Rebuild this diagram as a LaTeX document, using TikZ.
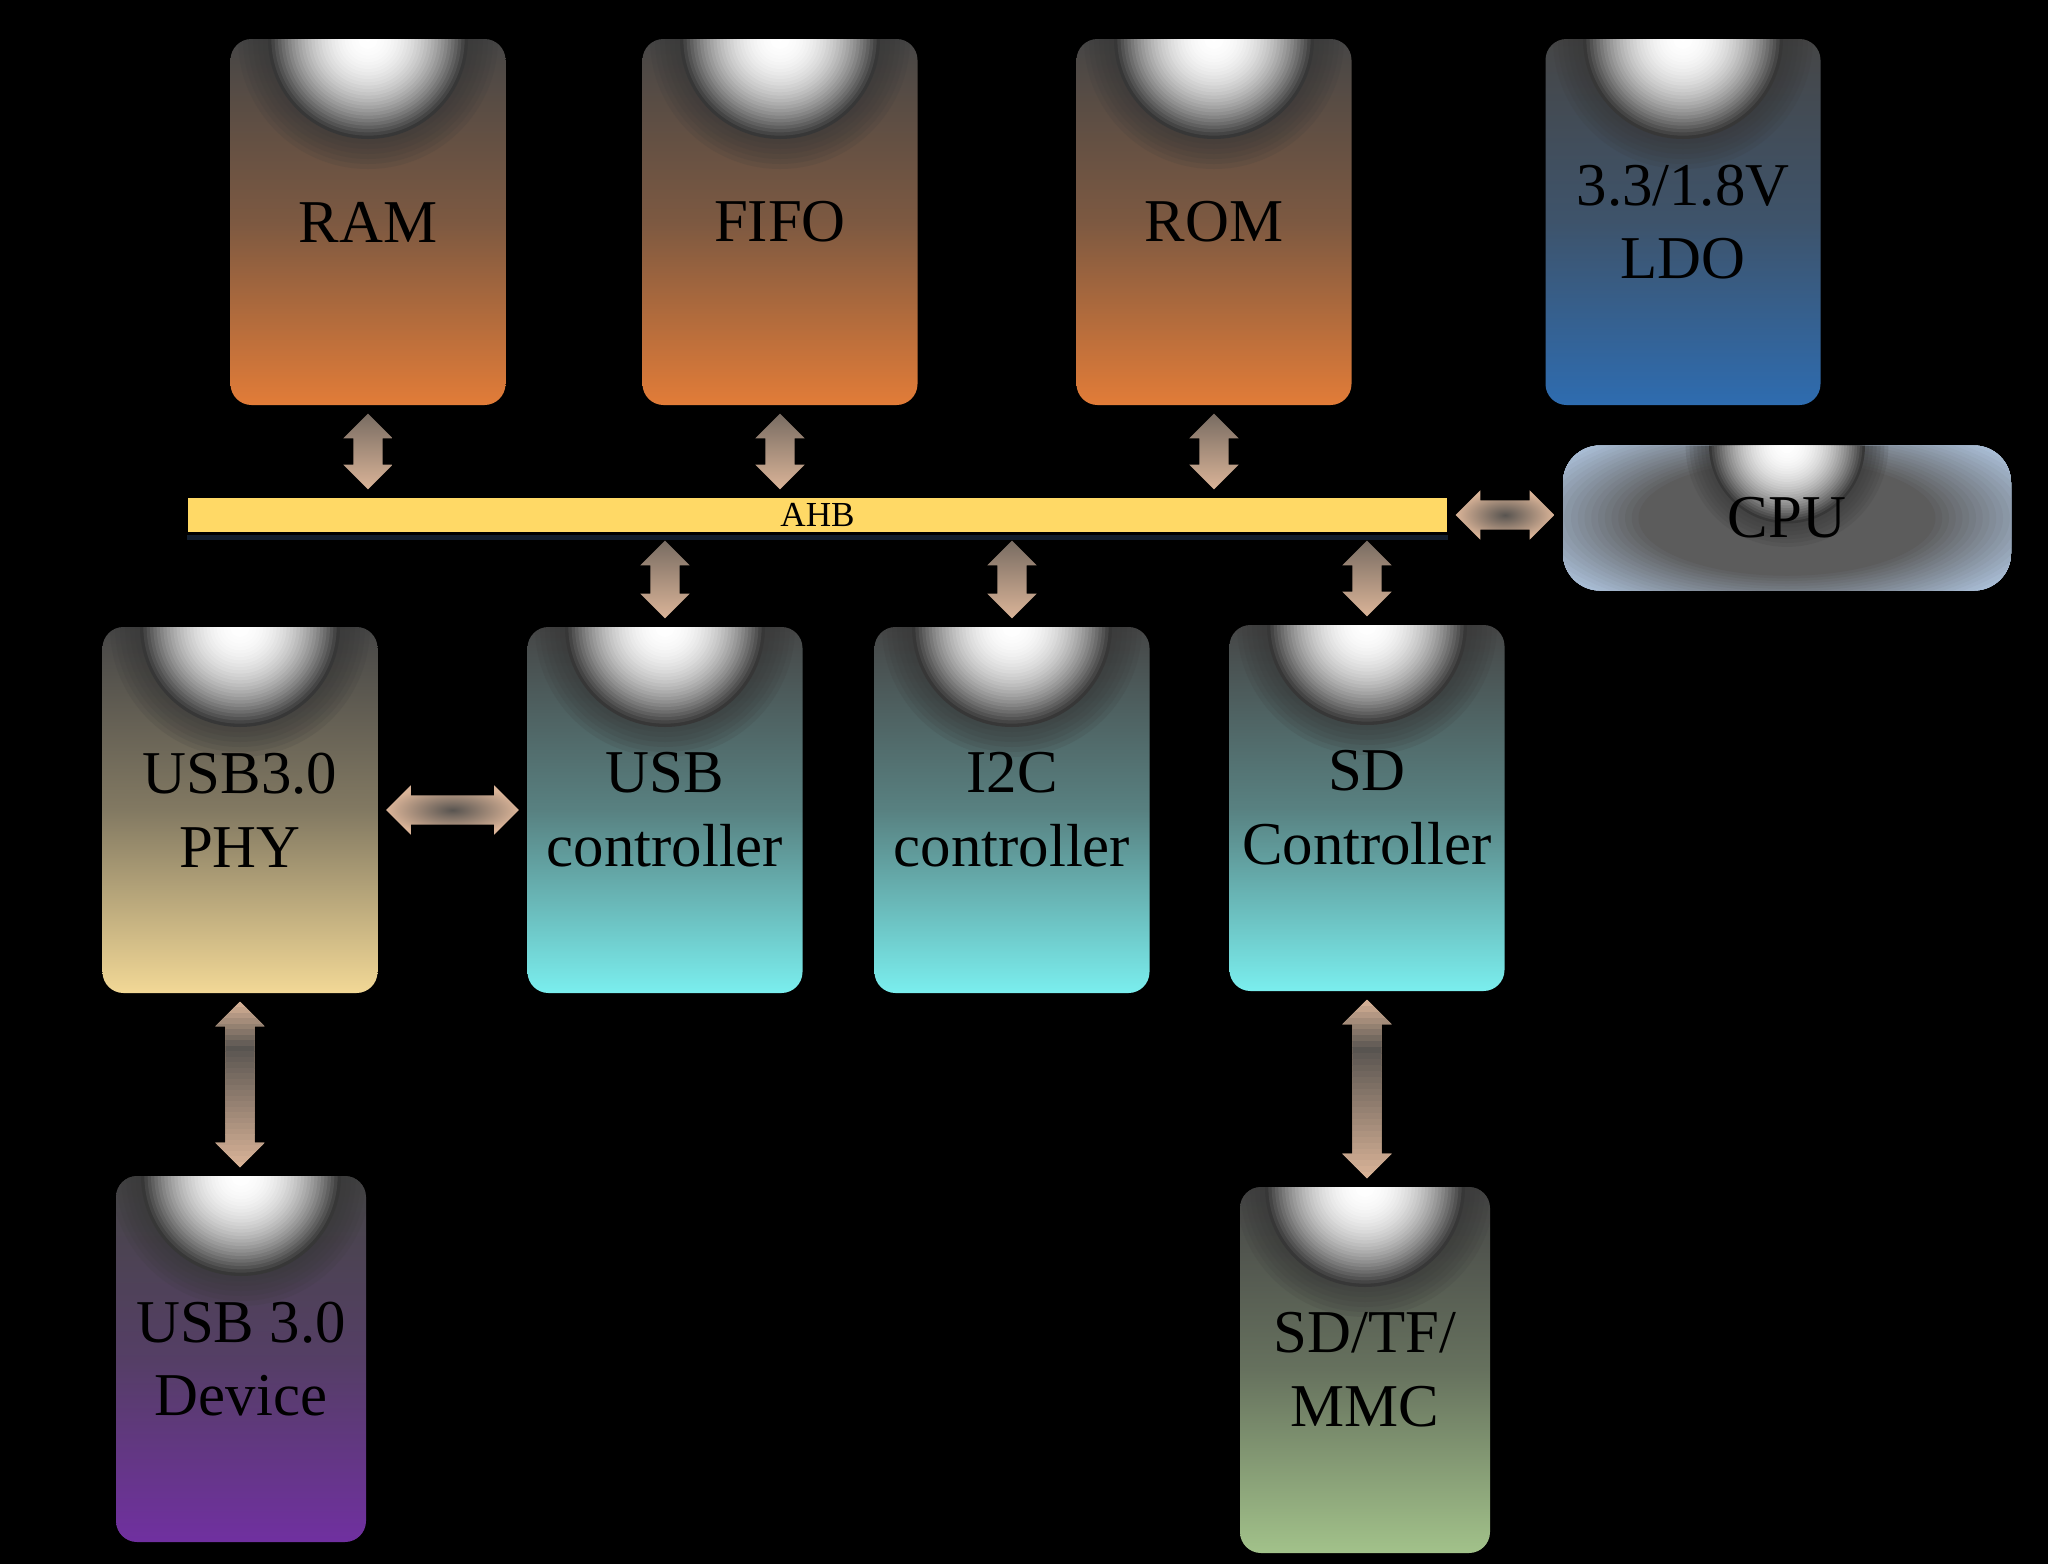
\documentclass[tikz,border=0pt]{standalone}
\usepackage{fontspec}
\setmainfont{Liberation Serif}
\usetikzlibrary{shapes.arrows, calc}

\definecolor{topgray}{RGB}{70,70,70}
\definecolor{ringgray}{RGB}{55,55,55}
\definecolor{memorange}{RGB}{226,124,56}
\definecolor{ldoblue}{RGB}{46,108,176}
\definecolor{phyyellow}{RGB}{242,216,150}
\definecolor{ctrlcyan}{RGB}{122,238,238}
\definecolor{devpurple}{RGB}{112,48,160}
\definecolor{mmcgreen}{RGB}{162,194,138}
\definecolor{cpublue}{RGB}{168,188,212}
\definecolor{cpudark}{RGB}{92,92,92}
\definecolor{busyellow}{RGB}{255,217,102}
\definecolor{busshadow}{RGB}{16,28,44}
\definecolor{arrpeach}{RGB}{218,180,152}
\definecolor{arrdark}{RGB}{88,84,80}

\newcommand{\blkfont}{\fontsize{17.3}{21}\selectfont}
\newcommand{\spotlight}[1]{%
  \foreach \k in {0,...,5} {%
    \fill[ringgray, opacity=0.14] (path picture bounding box.north) circle ({(1.3-\k*0.05)*#1});}
  \foreach \k in {0,...,29} {%
    \pgfmathsetmacro\spt{1-\k/30}%
    \pgfmathsetmacro\spf{100*(1-\spt^2.2)}%
    \fill[white!\spf!ringgray] (path picture bounding box.north) circle ({\spt*#1});}}
\newcommand{\cpuglow}{%
  \foreach \k in {0,...,39} {%
    \pgfmathsetmacro\spt{1.1-\k/40}%
    \pgfmathsetmacro\spf{min(100,max(0,100*(\spt-0.55)/0.45))}%
    \fill[cpublue!\spf!cpudark] (path picture bounding box.center) ellipse ({\spt*2.7} and {\spt*1.05});}}
\newcommand{\longshade}{%
  \foreach \k in {0,...,29} {%
    \pgfmathsetmacro\spt{(\k+0.5)/30}%
    \pgfmathsetmacro\spf{\spt<0.28 ? 100*(1-\spt/0.28) : 100*(\spt-0.28)/0.72}%
    \fill[arrpeach!\spf!arrdark] ($(path picture bounding box.north west)!{\k/30}!(path picture bounding box.south west)$) rectangle ($(path picture bounding box.north east)!{(\k+1.1)/30}!(path picture bounding box.south east)$);}}

\tikzset{blk/.style={rectangle, rounded corners=0.21cm, minimum width=2.75cm, minimum height=3.66cm, inner sep=0pt, align=center, font=\blkfont, text=black,
  top color=topgray, bottom color=#1, middle color=#1!35!topgray, path picture={\spotlight{1.0}}}}
\tikzstyle{cpublk} = [rectangle, rounded corners=0.37cm, minimum width=4.48cm, minimum height=1.45cm, inner sep=0pt, font=\blkfont, text=black, fill=cpublue,
  path picture={\cpuglow \spotlight{0.78}}]
\tikzstyle{bus} = [rectangle, fill=busyellow, minimum width=12.59cm, minimum height=0.34cm, inner sep=0pt, font=\fontsize{10}{10}\selectfont]
\tikzstyle{fat} = [double arrow, draw=none, inner sep=0.14cm, double arrow head extend=0.1cm]
\tikzstyle{hfat} = [inner color=arrdark, outer color=arrpeach]
\tikzstyle{vshort} = [shape border rotate=90, top color=arrdark!75!arrpeach, bottom color=arrpeach]
\tikzstyle{vlong} = [shape border rotate=90, fill=arrpeach, path picture={\longshade}]
\tikzset{link/.style={to path={let \p1=(\tikztostart), \p2=(\tikztotarget), \n1={veclen(\x2-\x1,\y2-\y1)-0.16cm} in
  node[fat, #1, minimum height=\n1] at ($(\p1)!0.5!(\p2)$) {}}}}

\begin{document}
\begin{tikzpicture}
\useasboundingbox (0,0) rectangle (20.48,-15.64);
\fill[black] (0,0) rectangle (20.48,-15.64);

\node (ram) [blk=memorange] at (3.68,-2.22) {RAM};
\node (fifo) [blk=memorange] at (7.80,-2.22) {FIFO};
\node (rom) [blk=memorange] at (12.14,-2.22) {ROM};
\node (ldo) [blk=ldoblue] at (16.83,-2.22) {3.3/1.8V\\LDO};

\node (bus) [bus] at (8.175,-5.15) {AHB};
\draw[busshadow, line width=0.05cm] ([yshift=-0.05cm]bus.south west) -- ([yshift=-0.05cm]bus.south east);
\node (cpu) [cpublk] at (17.87,-5.18) {CPU};

\node (phy) [blk=phyyellow] at (2.40,-8.10) {USB3.0\\PHY};
\node (usb) [blk=ctrlcyan] at (6.65,-8.10) {USB\\controller};
\node (i2c) [blk=ctrlcyan] at (10.12,-8.10) {I2C\\controller};
\node (sd) [blk=ctrlcyan] at (13.67,-8.08) {SD\\Controller};

\node (dev) [blk=devpurple, minimum width=2.5cm] at (2.41,-13.59) {USB 3.0\\Device};
\node (mmc) [blk=mmcgreen, minimum width=2.5cm] at (13.65,-13.70) {SD/TF/\\MMC};

\path (ram.south) to[link=vshort] (ram.south |- bus.north);
\path (fifo.south) to[link=vshort] (fifo.south |- bus.north);
\path (rom.south) to[link=vshort] (rom.south |- bus.north);
\path (usb.north |- bus.south) to[link=vshort] (usb.north);
\path (i2c.north |- bus.south) to[link=vshort] (i2c.north);
\path (sd.north |- bus.south) to[link=vshort] (sd.north);
\path (bus.east) to[link=hfat] (bus.east -| cpu.west);
\path (phy.east) to[link=hfat] (usb.west);
\path (phy.south) to[link=vlong] (phy.south |- dev.north);
\path (sd.south) to[link=vlong] (sd.south |- mmc.north);
\end{tikzpicture}
\end{document}
